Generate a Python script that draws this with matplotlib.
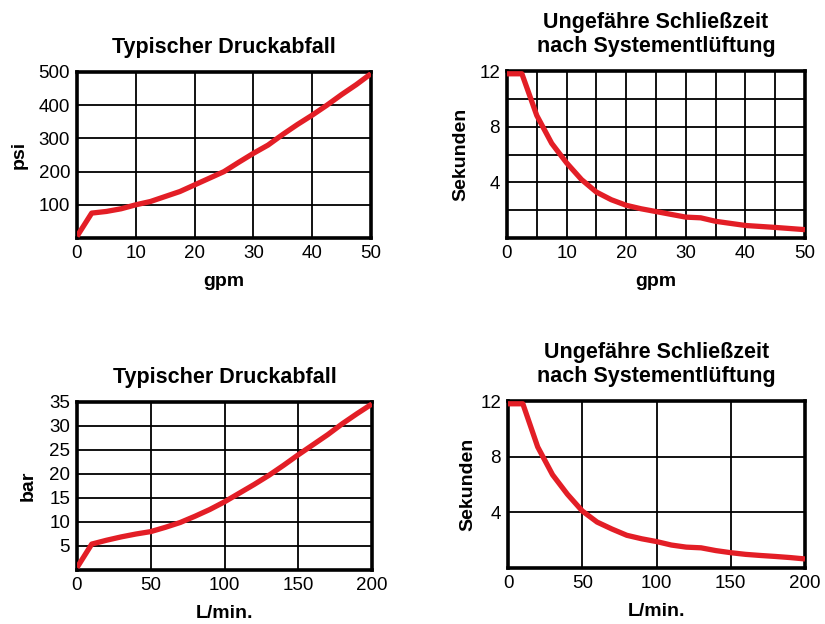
import matplotlib
matplotlib.use("Agg")
import matplotlib.pyplot as plt

plt.rcParams['font.family'] = ['Liberation Sans', 'DejaVu Sans']

RED = '#e31e26'

# Typischer Druckabfall (gpm / psi)
gpm_p = [0, 2.5, 5, 7.5, 10, 12.5, 15, 17.5, 20, 22.5, 25, 27.5, 30, 32.5, 35, 37.5, 40, 42.5, 45, 47.5, 50]
psi_p = [5, 75, 80, 88, 100, 110, 125, 140, 160, 180, 200, 228, 255, 280, 312, 342, 370, 400, 432, 462, 495]

# Schliesszeit (gpm / s)
gpm_t = [0, 2.5, 5, 7.5, 10, 12.5, 15, 17.5, 20, 22.5, 25, 27.5, 30, 32.5, 35, 37.5, 40, 42.5, 45, 47.5, 50]
sek_t = [11.8, 11.8, 8.8, 6.8, 5.4, 4.2, 3.3, 2.75, 2.35, 2.1, 1.9, 1.7, 1.5, 1.45, 1.2, 1.05, 0.9, 0.83, 0.76, 0.68, 0.6]

# Typischer Druckabfall (L/min / bar)
lmin_p = [0, 10, 20, 30, 40, 50, 60, 70, 80, 90, 100, 110, 120, 130, 140, 150, 160, 170, 180, 190, 200]
bar_p = [0.5, 5.4, 6.2, 6.9, 7.5, 8.0, 8.9, 9.9, 11.2, 12.6, 14.2, 16.0, 17.8, 19.7, 21.8, 24.0, 26.1, 28.2, 30.5, 32.6, 34.6]

# Schliesszeit (L/min / s)
lmin_t = [0, 10, 20, 30, 40, 50, 60, 70, 80, 90, 100, 110, 120, 130, 140, 150, 160, 170, 180, 190, 200]
sek_t2 = [11.8, 11.8, 8.7, 6.7, 5.3, 4.1, 3.3, 2.8, 2.35, 2.1, 1.9, 1.65, 1.5, 1.45, 1.25, 1.1, 0.98, 0.9, 0.83, 0.75, 0.65]

W, H = 825, 624
fig = plt.figure(figsize=(W / 100, H / 100), dpi=100)
fig.patch.set_facecolor('white')


def make_ax(l, t, r, b):
    return fig.add_axes([l / W, 1 - b / H, (r - l) / W, (b - t) / H])


def style(ax, xlim, ylim, xgrid, ygrid, xticks, yticks, title, xlabel, ylabel, ylabelpad):
    ax.set_xlim(*xlim)
    ax.set_ylim(*ylim)
    for g in xgrid:
        ax.axvline(g, color='black', lw=1.3, zorder=1)
    for g in ygrid:
        ax.axhline(g, color='black', lw=1.3, zorder=1)
    ax.set_xticks(xticks)
    ax.set_yticks(yticks)
    ax.tick_params(length=0, labelsize=13.5, pad=5, colors='black')
    for s in ax.spines.values():
        s.set_linewidth(2.6)
        s.set_color('black')
    ax.set_title(title, fontsize=15.5, fontweight='bold', pad=14, linespacing=1.15)
    ax.set_xlabel(xlabel, fontsize=14, fontweight='bold', labelpad=8)
    ax.set_ylabel(ylabel, fontsize=14, fontweight='bold', labelpad=ylabelpad)


ax1 = make_ax(77, 72, 371, 238)
style(ax1, (0, 50), (0, 500), [10, 20, 30, 40], [100, 200, 300, 400],
      [0, 10, 20, 30, 40, 50], [100, 200, 300, 400, 500],
      'Typischer Druckabfall', 'gpm', 'psi', 8)
ax1.plot(gpm_p, psi_p, color=RED, lw=3.8, solid_capstyle='butt', zorder=3)

ax2 = make_ax(507, 71, 805, 238)
style(ax2, (0, 50), (0, 12), [5, 10, 15, 20, 25, 30, 35, 40, 45], [2, 4, 6, 8, 10],
      [0, 10, 20, 30, 40, 50], [4, 8, 12],
      'Ungefähre Schließzeit\nnach Systementlüftung', 'gpm', 'Sekunden', 7)
ax2.plot(gpm_t, sek_t, color=RED, lw=3.8, solid_capstyle='butt', zorder=3)

ax3 = make_ax(77, 402, 372, 570)
style(ax3, (0, 200), (0, 35), [50, 100, 150], [5, 10, 15, 20, 25, 30],
      [0, 50, 100, 150, 200], [5, 10, 15, 20, 25, 30, 35],
      'Typischer Druckabfall', 'L/min.', 'bar', 9)
ax3.plot(lmin_p, bar_p, color=RED, lw=3.8, solid_capstyle='butt', zorder=3)

ax4 = make_ax(508, 401, 805, 568)
style(ax4, (0, 200), (0, 12), [50, 100, 150], [4, 8],
      [0, 50, 100, 150, 200], [4, 8, 12],
      'Ungefähre Schließzeit\nnach Systementlüftung', 'L/min.', 'Sekunden', 3)
ax4.plot(lmin_t, sek_t2, color=RED, lw=3.8, solid_capstyle='butt', zorder=3)

fig.savefig('out.png', dpi=100)
